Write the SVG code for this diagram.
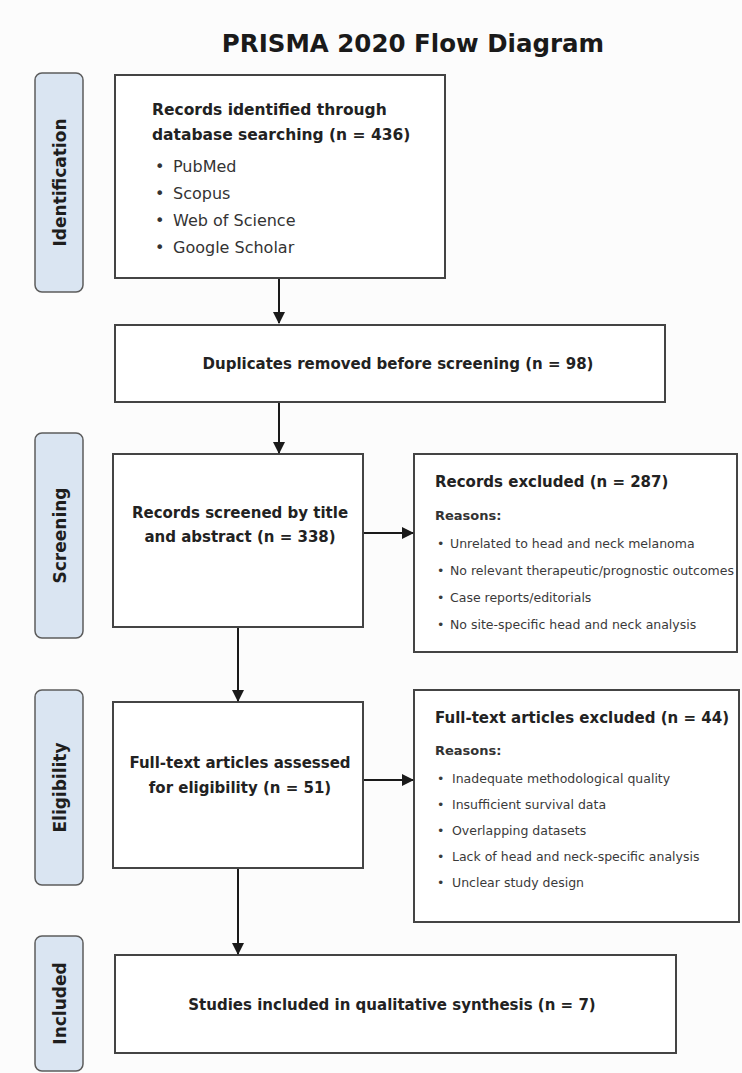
<svg xmlns="http://www.w3.org/2000/svg" width="742" height="1073" viewBox="0 0 742 1073">
<style>
text{font-family:"DejaVu Sans","Liberation Sans",sans-serif;fill:#222}
.title{font-size:24.5px;font-weight:bold;fill:#1a1a1a}
.lbl rect{fill:#dae5f2;stroke:#5c5c5c;stroke-width:1.5}
.lbl text{font-size:17px;font-weight:bold;fill:#1e1e1e}
.box{fill:#fff;stroke:#444;stroke-width:2}
.hb{font-size:15.5px;font-weight:bold}
.mb{font-size:15px;font-weight:bold}
.rs{font-size:13px;font-weight:bold;fill:#333}
.bl{font-size:16px;fill:#333}
.sb{font-size:12.5px;fill:#3a3a3a}
.c{text-anchor:middle}
.conn path{fill:none;stroke:#1a1a1a;stroke-width:2}
</style>
<defs>
<marker id="ah" markerWidth="12" markerHeight="12" refX="11" refY="6" orient="auto" markerUnits="userSpaceOnUse"><path d="M0,0 L12,6 L0,12 z" fill="#1a1a1a"/></marker>
</defs>
<rect width="742" height="1073" fill="#fcfcfc"/>
<text class="title c" x="413" y="52">PRISMA 2020 Flow Diagram</text>

<g id="lbl-identification" class="lbl"><rect x="35" y="73" width="48" height="219" rx="7"/><text class="c" transform="translate(66,182.5) rotate(-90)">Identification</text></g>
<g id="lbl-screening" class="lbl"><rect x="35" y="433" width="48" height="205" rx="7"/><text class="c" transform="translate(66,535.5) rotate(-90)">Screening</text></g>
<g id="lbl-eligibility" class="lbl"><rect x="35" y="690" width="48" height="195" rx="7"/><text class="c" transform="translate(66,787.5) rotate(-90)">Eligibility</text></g>
<g id="lbl-included" class="lbl"><rect x="35" y="936" width="48" height="135" rx="7"/><text class="c" transform="translate(66,1003.5) rotate(-90)">Included</text></g>

<g id="identified">
<rect class="box" x="115" y="75" width="330" height="203"/>
<text class="hb" x="152" y="115">Records identified through</text>
<text class="hb" x="152" y="140">database searching (n = 436)</text>
<text class="bl" x="155" y="172">•</text><text class="bl" x="173" y="172">PubMed</text>
<text class="bl" x="155" y="199">•</text><text class="bl" x="173" y="199">Scopus</text>
<text class="bl" x="155" y="226">•</text><text class="bl" x="173" y="226">Web of Science</text>
<text class="bl" x="155" y="253">•</text><text class="bl" x="173" y="253">Google Scholar</text>
</g>

<g id="duplicates">
<rect class="box" x="115" y="325" width="550" height="77"/>
<text class="mb c" x="398" y="369">Duplicates removed before screening (n = 98)</text>
</g>

<g id="screened">
<rect class="box" x="113" y="454" width="250" height="173"/>
<text class="mb c" x="240" y="518">Records screened by title</text>
<text class="mb c" x="240" y="542">and abstract (n = 338)</text>
</g>

<g id="records-excluded">
<rect class="box" x="414" y="454" width="323" height="198"/>
<text class="mb" x="435" y="487">Records excluded (n = 287)</text>
<text class="rs" x="435" y="520">Reasons:</text>
<text class="sb" x="437" y="548">•</text><text class="sb" x="450" y="548">Unrelated to head and neck melanoma</text>
<text class="sb" x="437" y="575">•</text><text class="sb" x="450" y="575">No relevant therapeutic/prognostic outcomes</text>
<text class="sb" x="437" y="602">•</text><text class="sb" x="450" y="602">Case reports/editorials</text>
<text class="sb" x="437" y="629">•</text><text class="sb" x="450" y="629">No site-specific head and neck analysis</text>
</g>

<g id="assessed">
<rect class="box" x="113" y="702" width="250" height="166"/>
<text class="mb c" x="240" y="768">Full-text articles assessed</text>
<text class="mb c" x="240" y="793">for eligibility (n = 51)</text>
</g>

<g id="fulltext-excluded">
<rect class="box" x="414" y="690" width="325" height="232"/>
<text class="mb" x="435" y="723">Full-text articles excluded (n = 44)</text>
<text class="rs" x="435" y="755">Reasons:</text>
<text class="sb" x="437" y="783">•</text><text class="sb" x="452" y="783">Inadequate methodological quality</text>
<text class="sb" x="437" y="809">•</text><text class="sb" x="452" y="809">Insufficient survival data</text>
<text class="sb" x="437" y="835">•</text><text class="sb" x="452" y="835">Overlapping datasets</text>
<text class="sb" x="437" y="861">•</text><text class="sb" x="452" y="861">Lack of head and neck-specific analysis</text>
<text class="sb" x="437" y="887">•</text><text class="sb" x="452" y="887">Unclear study design</text>
</g>

<g id="included">
<rect class="box" x="115" y="955" width="561" height="98"/>
<text class="mb c" x="392" y="1010">Studies included in qualitative synthesis (n = 7)</text>
</g>

<g id="connectors" class="conn">
<path d="M279,279 V323" marker-end="url(#ah)"/>
<path d="M279,403 V453" marker-end="url(#ah)"/>
<path d="M364,533 H413" marker-end="url(#ah)"/>
<path d="M238,628 V701" marker-end="url(#ah)"/>
<path d="M364,780 H413" marker-end="url(#ah)"/>
<path d="M238,869 V954" marker-end="url(#ah)"/>
</g>
</svg>
